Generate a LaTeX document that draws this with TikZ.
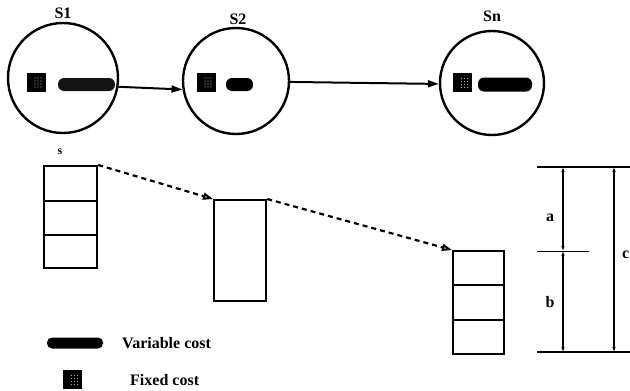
\documentclass[tikz,border=0pt]{standalone}
\usepackage{fontspec}
\setmainfont{Liberation Serif}
\usetikzlibrary{arrows.meta}
\begin{document}
\begin{tikzpicture}[x=1pt,y=-1pt,
  state/.style={circle,draw,line width=2.4pt,inner sep=0pt},
  lbl/.style={font=\bfseries\fontsize{16}{16}\selectfont,inner sep=0pt},
  pill/.style={fill=black,rounded corners=6pt,minimum height=13pt,inner sep=0pt},
  fixed/.style={fill=black,minimum size=19pt,inner sep=0pt,
    path picture={\foreach \i in {-1,2,5} \foreach \j in {-5,-2,1,4}
      \fill[white!70!black] ([shift={(\i pt,\j pt)}]path picture bounding box.center) circle (0.7pt);}},
  cell/.style={draw,line width=2.2pt,inner sep=0pt,anchor=north west},
  flow/.style={line width=2pt,-{Triangle[length=11pt,width=7pt]}},
  link/.style={line width=2.2pt,dash pattern=on 5pt off 4pt,-{Triangle[open,length=10pt,width=7pt,line width=2pt]}},
  dim/.style={line width=2pt,{Latex[length=5pt,width=3.5pt]}-{Latex[length=5pt,width=3.5pt]}},
  rule/.style={line width=2pt}]
\useasboundingbox (0,0) rectangle (630,391);

% stages
\node[state,minimum size=110pt] (s1) at (63,78) {};
\node[state,minimum size=106pt] (s2) at (236,81) {};
\node[state,minimum size=104pt] (sn) at (492,83) {};
\node[lbl] (t1) at (63,13) {S1};
\node[lbl] (t2) at (238,19) {S2};
\node[lbl] (tn) at (492,16) {Sn};

% cost symbols inside the stages
\node[fixed] (f1) at (36,82) {};
\node[pill,minimum width=57pt,fill=black!92] (v1) at (86.5,84.5) {};
\node[fixed] (f2) at (206,82) {};
\node[pill,minimum width=27pt] (v2) at (239.5,84.5) {};
\node[fixed] (fn) at (462.5,82.5) {};
\node[pill,minimum width=54pt,minimum height=14pt] (vn) at (505,84.5) {};

\draw[flow] (s1.-9) -- (s2.189);
\draw[flow] (s2.-1) -- (sn.181);

% capacity stacks
\node[lbl,font=\bfseries\fontsize{12}{12}\selectfont] (s) at (60,152) {s};
\node[cell,minimum width=53pt,minimum height=35pt] (l1) at (43,165) {};
\node[cell,minimum width=53pt,minimum height=34pt] (l2) at (43,200) {};
\node[cell,minimum width=53pt,minimum height=33pt] (l3) at (43,234) {};
\node[cell,minimum width=52pt,minimum height=101pt] (m) at (213,199) {};
\node[cell,minimum width=51pt,minimum height=34pt] (r1) at (452,250) {};
\node[cell,minimum width=51pt,minimum height=35pt] (r2) at (452,284) {};
\node[cell,minimum width=51pt,minimum height=34pt] (r3) at (452,319) {};

\draw[link] (l1.north east) -- (m.north west);
\draw[link] (m.north east) -- (r1.north west);

% dimensions
\coordinate (dt0) at (537,167);
\coordinate (dt1) at (630,167);
\coordinate (db0) at (537,352);
\coordinate (db1) at (630,352);
\coordinate (dm0) at (537,251);
\coordinate (dm1) at (589,251);
\coordinate (at) at (563,167);
\coordinate (am) at (563,251);
\coordinate (ab) at (563,352);
\coordinate (ct) at (614,167);
\coordinate (cb) at (614,352);
\draw[rule] (dt0) -- (dt1);
\draw[rule] (db0) -- (db1);
\draw[line width=1pt] (dm0) -- (dm1);
\draw[dim] (at) -- (am);
\draw[dim] (am) -- (ab);
\draw[dim] (ct) -- (cb);
\node[lbl] (la) at (550,218) {a};
\node[lbl] (lb) at (550,302) {b};
\node[lbl,anchor=west] (lc) at (622,255) {c};

% legend
\node[pill,minimum width=56pt,minimum height=11pt,rounded corners=5pt] (kv) at (75,343) {};
\node[lbl,anchor=west] (kvt) at (122,343) {Variable cost};
\node[fixed] (kf) at (72.5,379.5) {};
\node[lbl,anchor=west] (kft) at (130,380) {Fixed cost};
\end{tikzpicture}
\end{document}
